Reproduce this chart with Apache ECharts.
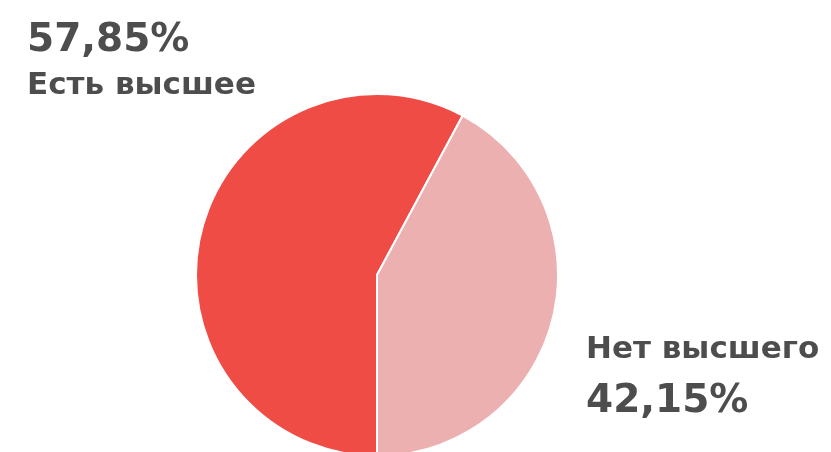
<!DOCTYPE html>
<html><head><meta charset="utf-8">
<script src="https://cdn.jsdelivr.net/npm/echarts@6/dist/echarts.min.js"></script>
<style>html,body{margin:0;padding:0;background:#fff}#c{width:831px;height:452px}</style>
</head><body><div id="c"></div>
<script>
const categories = ['Есть высшее', 'Нет высшего'];
const values = [57.85, 42.15];
const valueLabels = ['57,85%', '42,15%'];
const colors = ['#EF4C46', '#ECB0B0'];

const FONT = '"DejaVu Sans", sans-serif';
const chart = echarts.init(document.getElementById('c'), null, {renderer: 'canvas'});
const labelPos = [
  {x: 27, y: 17},
  {x: 586, y: 325}
];
const base = {fontWeight: 'bold', color: '#4d4d4d', fontFamily: FONT};
chart.setOption({
  animation: false,
  series: [{
    type: 'pie',
    center: [377, 275],
    radius: 181,
    startAngle: -90,
    clockwise: true,
    silent: true,
    itemStyle: {borderColor: '#fff', borderWidth: 2},
    labelLine: {show: false},
    label: {
      show: true,
      position: 'outside',
      overflow: 'none',
      fontFamily: FONT,
      fontWeight: 'bold',
      color: '#4d4d4d',
      formatter: function (p) {
        return p.dataIndex === 0
          ? '{pctA|' + valueLabels[0] + '}\n{nmA|' + categories[0] + '}'
          : '{nmB|' + categories[1] + '}\n{pctB|' + valueLabels[1] + '}';
      },
      rich: {
        pctA: Object.assign({fontSize: 39, lineHeight: 48}, base),
        nmA: Object.assign({fontSize: 31, lineHeight: 42}, base),
        nmB: Object.assign({fontSize: 31, lineHeight: 50}, base),
        pctB: Object.assign({fontSize: 39, lineHeight: 54}, base)
      }
    },
    labelLayout: function (params) {
      const p = labelPos[params.dataIndex];
      return {x: p.x, y: p.y, align: 'left', verticalAlign: 'top', hideOverlap: false, moveOverlap: null};
    },
    data: categories.map((c, i) => ({name: c, value: values[i], itemStyle: {color: colors[i]}}))
  }]
});
</script></body></html>
